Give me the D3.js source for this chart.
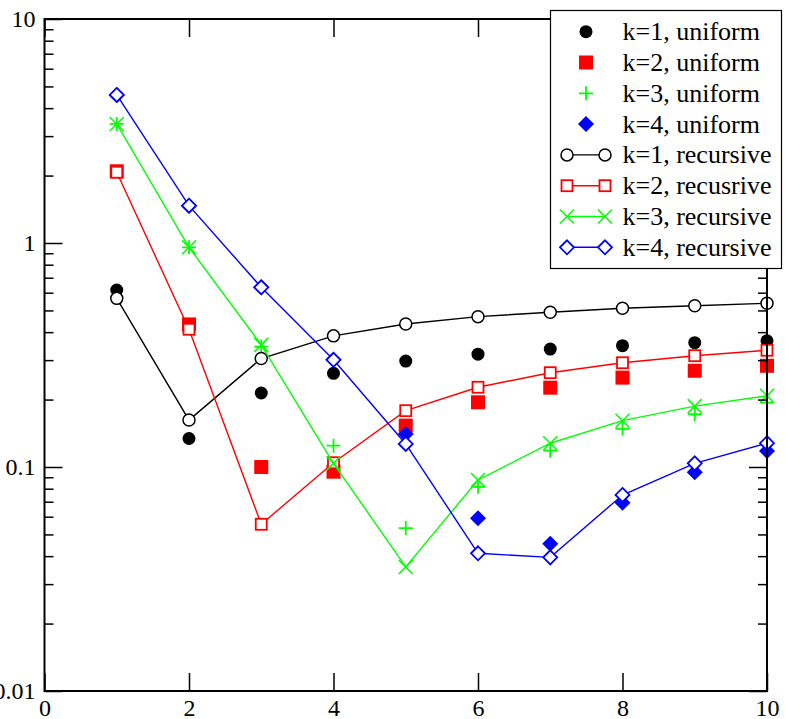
<!DOCTYPE html>
<html>
<head>
<meta charset="utf-8">
<script src="https://cdn.jsdelivr.net/npm/d3@7"></script>
<style>
    body { margin: 0; background: #fff; }
</style>
</head>
<body>
<div id="chart"></div>
<script>
const xValues = [1, 2, 3, 4, 5, 6, 7, 8, 9, 10];

const uniformK1 = [0.617, 0.134, 0.214, 0.262, 0.297, 0.319, 0.336, 0.348, 0.359, 0.366];
const uniformK2 = [2.09, 0.433, 0.100, 0.0953, 0.153, 0.1945, 0.226, 0.2506, 0.269, 0.283];
const uniformK3 = [3.40, 0.957, 0.345, 0.1245, 0.0534, 0.0816, 0.1183, 0.148, 0.172, 0.194];
const uniformK4 = [4.58, 1.468, 0.634, 0.301, 0.1404, 0.059, 0.0454, 0.0693, 0.0947, 0.118];

const recursiveK1 = [0.566, 0.162, 0.305, 0.385, 0.435, 0.469, 0.491, 0.511, 0.525, 0.538];
const recursiveK2 = [2.07, 0.412, 0.0555, 0.1045, 0.1784, 0.227, 0.2636, 0.292, 0.314, 0.332];
const recursiveK3 = [3.40, 0.957, 0.351, 0.1038, 0.0358, 0.0875, 0.1277, 0.161, 0.187, 0.208];
const recursiveK4 = [4.58, 1.468, 0.634, 0.301, 0.1267, 0.0412, 0.0395, 0.075, 0.1038, 0.1277];

const xTicks = [0, 2, 4, 6, 8, 10];
const yTicks = [0.01, 0.1, 1, 10];
const yTickLabels = ["0.01", "0.1", "1", "10"];

const series = [
    { name: "k=1, uniform", values: uniformK1, color: "#000000", marker: "dot", line: false },
    { name: "k=2, uniform", values: uniformK2, color: "#ff0000", marker: "fsquare", line: false },
    { name: "k=3, uniform", values: uniformK3, color: "#00ff00", marker: "plus", line: false },
    { name: "k=4, uniform", values: uniformK4, color: "#0000ff", marker: "fdiamond", line: false },
    { name: "k=1, recursive", values: recursiveK1, color: "#000000", marker: "ocircle", line: true },
    { name: "k=2, recusrive", values: recursiveK2, color: "#ff0000", marker: "osquare", line: true },
    { name: "k=3, recursive", values: recursiveK3, color: "#00ff00", marker: "cross", line: true },
    { name: "k=4, recursive", values: recursiveK4, color: "#0000ff", marker: "odiamond", line: true }
];

const serif = "Liberation Serif";

const width = 785;
const height = 719;
const margin = { top: 19, left: 44.5, right: 18, bottom: 28 };
const majorTick = 18;
const minorTick = 9;

const svg = d3.select("#chart")
    .append("svg")
    .attr("width", width)
    .attr("height", height);

const xScale = d3.scaleLinear()
    .domain([0, 10])
    .range([margin.left, width - margin.right]);

const yScale = d3.scaleLog()
    .domain([0.01, 10])
    .range([height - margin.bottom, margin.top]);

// marker shapes, drawn around (0,0)
function drawMarker(g, type, color) {
    if (type === "dot") {
        g.append("circle").attr("r", 6.5).attr("fill", color);
    } else if (type === "fsquare") {
        g.append("rect").attr("x", -7).attr("y", -7).attr("width", 14).attr("height", 14).attr("fill", color);
    } else if (type === "plus") {
        g.append("path").attr("d", "M-7,0H7M0,-7V7").attr("stroke", color).attr("stroke-width", 1.8).attr("fill", "none");
    } else if (type === "fdiamond") {
        g.append("path").attr("d", "M0,-8L8,0L0,8L-8,0Z").attr("fill", color);
    } else if (type === "ocircle") {
        g.append("circle").attr("r", 6).attr("fill", "#fff").attr("stroke", color).attr("stroke-width", 1.5);
    } else if (type === "osquare") {
        g.append("rect").attr("x", -5.5).attr("y", -5.5).attr("width", 11).attr("height", 11)
            .attr("fill", "#fff").attr("stroke", color).attr("stroke-width", 1.8);
    } else if (type === "cross") {
        g.append("path").attr("d", "M-7,-7L7,7M-7,7L7,-7").attr("stroke", color).attr("stroke-width", 1.5).attr("fill", "none");
    } else if (type === "odiamond") {
        g.append("path").attr("d", "M0,-7L7,0L0,7L-7,0Z")
            .attr("fill", "#fff").attr("stroke", color).attr("stroke-width", 1.8);
    }
}

const line = d3.line()
    .x(d => xScale(d.x))
    .y(d => yScale(d.y));

series.forEach(function(s) {
    const pts = xValues.map((x, i) => ({ x: x, y: s.values[i] }));
    const g = svg.append("g");

    if (s.line) {
        g.append("path")
            .datum(pts)
            .attr("d", line)
            .attr("fill", "none")
            .attr("stroke", s.color)
            .attr("stroke-width", 1.4);
    }

    g.selectAll("g.mark")
        .data(pts)
        .enter()
        .append("g")
        .attr("class", "mark")
        .attr("transform", d => `translate(${xScale(d.x)},${yScale(d.y)})`)
        .each(function() { drawMarker(d3.select(this), s.marker, s.color); });
});

// frame and ticks
const minorValues = [];
[0.01, 0.1, 1].forEach(function(dec) {
    for (let m = 2; m <= 9; m++) minorValues.push(dec * m);
});

function styleAxis(g) {
    g.select(".domain").remove();
    g.selectAll(".tick line").attr("stroke", "#000").attr("stroke-width", 1.5);
    g.selectAll("text")
        .style("font-family", serif)
        .style("font-size", "24px")
        .attr("fill", "#000");
}

svg.append("g")
    .attr("transform", `translate(0,${height - margin.bottom})`)
    .call(d3.axisBottom(xScale).tickValues(xTicks).tickSize(-majorTick).tickPadding(8).tickFormat(d3.format("d")))
    .call(styleAxis);

svg.append("g")
    .attr("transform", `translate(0,${margin.top})`)
    .call(d3.axisTop(xScale).tickValues(xTicks).tickSize(-majorTick).tickFormat(""))
    .call(styleAxis);

svg.append("g")
    .attr("transform", `translate(${margin.left},0)`)
    .call(d3.axisLeft(yScale).tickValues(yTicks).tickSize(-majorTick).tickPadding(9)
        .tickFormat((d, i) => yTickLabels[i]))
    .call(styleAxis);

svg.append("g")
    .attr("transform", `translate(${margin.left},0)`)
    .call(d3.axisLeft(yScale).tickValues(minorValues).tickSize(-minorTick).tickFormat(""))
    .call(styleAxis);

svg.append("g")
    .attr("transform", `translate(${width - margin.right},0)`)
    .call(d3.axisRight(yScale).tickValues(yTicks).tickSize(-majorTick).tickFormat(""))
    .call(styleAxis);

svg.append("g")
    .attr("transform", `translate(${width - margin.right},0)`)
    .call(d3.axisRight(yScale).tickValues(minorValues).tickSize(-minorTick).tickFormat(""))
    .call(styleAxis);

svg.append("rect")
    .attr("x", margin.left)
    .attr("y", margin.top)
    .attr("width", xScale(10) - xScale(0))
    .attr("height", yScale(0.01) - yScale(10))
    .attr("fill", "none")
    .attr("stroke", "#000")
    .attr("stroke-width", 2);

// legend
const legendX = 550.5;
const legendY = 10.5;
const rowStart = 31.7;
const rowStep = 30.8;

const legend = svg.append("g");

legend.append("rect")
    .attr("x", legendX)
    .attr("y", legendY)
    .attr("width", 231)
    .attr("height", 258)
    .attr("fill", "#fff")
    .attr("stroke", "#000")
    .attr("stroke-width", 1.2);

series.forEach(function(s, i) {
    const cy = rowStart + rowStep * i;
    if (s.line) {
        legend.append("line")
            .attr("x1", 567).attr("x2", 605)
            .attr("y1", cy).attr("y2", cy)
            .attr("stroke", s.color)
            .attr("stroke-width", 1.4);
        [567, 605].forEach(function(mx) {
            drawMarker(legend.append("g").attr("transform", `translate(${mx},${cy})`), s.marker, s.color);
        });
    } else {
        drawMarker(legend.append("g").attr("transform", `translate(586,${cy})`), s.marker, s.color);
    }
    legend.append("text")
        .attr("x", 622.5)
        .attr("y", cy)
        .attr("dy", "0.33em")
        .style("font-family", serif)
        .style("font-size", "26px")
        .attr("fill", "#000")
        .text(s.name);
});
</script>
</body>
</html>
